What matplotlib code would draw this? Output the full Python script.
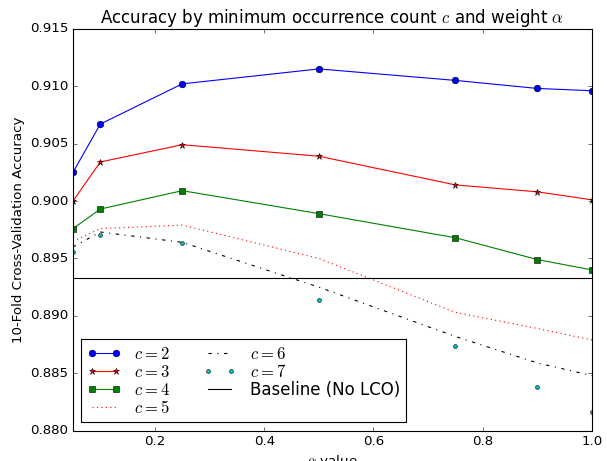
import matplotlib
matplotlib.use("Agg")
import matplotlib.pyplot as plt

plt.style.use("classic")

# alpha values on the x axis
alphas = [0.05, 0.1, 0.25, 0.5, 0.75, 0.9, 1.0]

# accuracy for each minimum occurrence count c
acc_c2 = [0.9025, 0.9067, 0.9102, 0.9115, 0.9105, 0.9098, 0.9096]
acc_c3 = [0.9000, 0.9034, 0.9049, 0.9039, 0.9014, 0.9008, 0.9001]
acc_c4 = [0.8976, 0.8993, 0.9009, 0.8989, 0.8968, 0.8949, 0.8940]
acc_c5 = [0.8965, 0.8976, 0.8979, 0.8950, 0.8903, 0.8889, 0.8879]
acc_c6 = [0.8960, 0.8973, 0.8964, 0.8925, 0.8882, 0.8859, 0.8848]
acc_c7 = [0.8956, 0.8970, 0.8963, 0.8914, 0.8874, 0.8838, 0.8816]

baseline = 0.8933

fig = plt.figure(figsize=(607 / 80.0, 461 / 80.0), dpi=80, facecolor="white")
ax = fig.add_axes([0.1203, 0.0657, 0.855, 0.872])

ax.plot(alphas, acc_c2, "bo-", label="$c=2$")
ax.plot(alphas, acc_c3, "r*-", label="$c=3$")
ax.plot(alphas, acc_c4, "gs-", label="$c=4$")
ax.plot(alphas, acc_c5, "r:", label="$c=5$")
ax.plot(alphas, acc_c6, "k-.", label="$c=6$")
ax.plot(alphas, acc_c7, "co", markersize=3.5, label="$c=7$")
ax.axhline(baseline, color="k", label="Baseline (No LCO)")

ax.set_xlim(0.05, 1.0)
ax.set_ylim(0.880, 0.915)
ax.set_title(r"Accuracy by minimum occurrence count $c$ and weight $\alpha$", fontsize=15)
ax.set_xlabel(r"$\alpha$ value")
ax.set_ylabel("10-Fold Cross-Validation Accuracy")
ax.legend(loc="lower left", ncol=2, fontsize=15, labelspacing=0.0, borderpad=0.35)

fig.savefig("out.png", dpi=80, facecolor="white")
